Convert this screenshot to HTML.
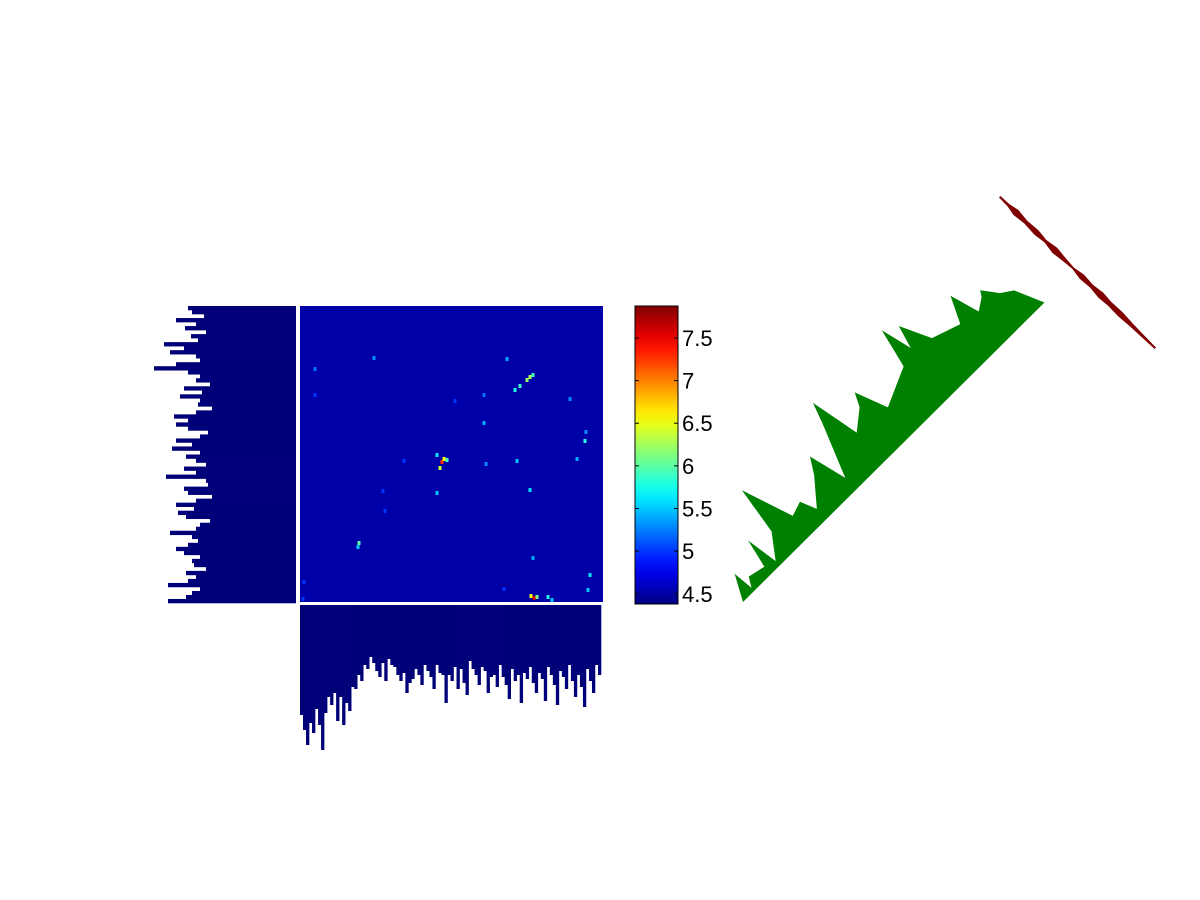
<!DOCTYPE html>
<html><head><meta charset="utf-8"><style>
body{margin:0;background:#fff;}
svg{display:block;font-family:"Liberation Sans",sans-serif;}
</style></head><body>
<svg id="fig" width="1200" height="900" viewBox="0 0 1200 900" xmlns="http://www.w3.org/2000/svg">
<defs><linearGradient id="jetg" x1="0" y1="1" x2="0" y2="0"></linearGradient></defs>
<g id="left"></g>
<g id="bottom"></g>
<g id="heat"></g>
<g id="cbar"></g>
<g id="tri"></g>
<g id="red"></g>
</svg>
<script>
// ---- data ----
const cbTicks = [4.5, 5, 5.5, 6, 6.5, 7, 7.5];
const cbMin = 4.38, cbMax = 7.875;
const bgValue = 4.52;
const spotX = [515,520,527,530,533,442,444,447,437,534,531,537,548,552,359,358,585,507,484,484,486,530,533,590,588,577,570,374,315,315,437,383,385,504,303,304,517,455,404,586,440];
const spotY = [390,386,380,377,375,462,459,460,455,598,596,597,597,600,543,547,441,359,423,395,464,490,558,575,590,459,399,358,369,395,493,491,511,589,599,582,461,401,461,432,468];
const spotV = [5.8,5.9,6.2,6.3,5.9,7.3,6.6,5.9,5.6,7.6,6.5,6.1,5.8,5.5,6.0,5.5,5.8,5.4,5.4,5.2,5.3,5.6,5.4,5.6,5.5,5.4,5.3,5.3,5.2,5.0,5.5,5.0,5.0,5.0,5.0,5.0,5.5,5.0,5.0,5.3,6.4];
const rowLen = [108,104,92,120,100,111,90,105,98,132,112,126,100,96,120,142,108,96,100,86,112,94,116,96,98,84,100,122,108,120,108,88,96,120,104,124,96,110,100,90,112,100,130,90,88,112,108,84,100,120,102,118,110,86,96,100,126,104,98,108,120,112,96,104,102,90,110,100,108,128,96,104,110,128];
const colLen = [110,125,140,118,128,104,120,145,108,92,100,88,116,92,120,98,106,82,84,70,76,60,64,52,58,66,72,58,76,54,60,62,70,76,68,88,78,74,64,70,80,60,66,72,84,60,68,70,98,70,76,62,84,64,78,90,56,64,70,80,62,66,88,72,70,82,60,72,80,94,64,76,70,98,68,74,62,78,88,68,74,96,62,70,80,100,66,72,84,60,76,92,70,82,102,64,76,88,60,70];
const triPos = [0,14,16,22,40,47,52,70,78,96,108,111,118,140,150,160,182,190,200,220,227,240,280,290,298,305,320,350,363,372,384,388,400,412,425];
const triH   = [0,26,4,14,10,40,6,30,80,26,30,31,14,40,56,16,70,92,40,56,70,36,54,95,62,86,54,44,71,40,48,54,38,30,0];
const redPos = [0,12,22,35,50,62,75,88,100,112,125,138,150,165,180,195,212];
const redW   = [1,2,6,3,5,2,6,3,1,5,3,6,4,5,3,2,1];

// ---- helpers ----
const NS = "http://www.w3.org/2000/svg";
function mk(tag, parent, attrs){const e=document.createElementNS(NS,tag);for(const k in attrs)e.setAttribute(k,attrs[k]);parent.appendChild(e);return e;}
function jet(v){let t=(v-cbMin)/(cbMax-cbMin);t=Math.max(0,Math.min(1,t));
 const f=x=>Math.max(0,Math.min(1,x));
 const r=f(Math.min(4*t-1.5,-4*t+4.5)),g=f(Math.min(4*t-0.5,-4*t+3.5)),b=f(Math.min(4*t+0.5,-4*t+2.5));
 return `rgb(${Math.round(r*255)},${Math.round(g*255)},${Math.round(b*255)})`;}

// heatmap
const HX0=300,HX1=603,HY0=306,HY1=602;
const heat=document.getElementById('heat');
let r=mk('rect',heat,{x:HX0,y:HY0,width:HX1-HX0,height:HY1-HY0,fill:jet(bgValue)});


spotX.forEach((x,i)=>{const c=mk('rect',heat,{x:x-1.5,y:spotY[i]-2,width:3,height:4,fill:jet(spotV[i])});
 
 });

// left profile
const left=document.getElementById('left');
const LX1=296, LY0=306, LY1=603, lscale=1.0;
const rh=(LY1-LY0)/rowLen.length;
rowLen.forEach((v,i)=>{const b=mk('rect',left,{x:LX1-v*lscale,y:LY0+i*rh,width:v*lscale,height:rh+0.3,fill:'#000078'});
 
 });

// bottom profile
const bottom=document.getElementById('bottom');
const BX0=300,BX1=601,BY0=605;
const cw=(BX1-BX0)/colLen.length;
colLen.forEach((v,i)=>{const b=mk('rect',bottom,{x:BX0+i*cw,y:BY0,width:cw+0.3,height:v,fill:'#000078'});
 
 });

// colorbar
const g=document.getElementById('jetg');
for(let i=0;i<=20;i++){const v=cbMin+(cbMax-cbMin)*i/20;mk('stop',g,{offset:(i/20),'stop-color':jet(v)});}
const cb=document.getElementById('cbar');
const CX0=635,CX1=678,CY0=306,CY1=604;
const cy=v=>CY1-(v-cbMin)/(cbMax-cbMin)*(CY1-CY0);
let cr=mk('rect',cb,{x:CX0,y:CY0,width:CX1-CX0,height:CY1-CY0,fill:'url(#jetg)',stroke:'#000','stroke-width':1});


cbTicks.forEach(v=>{const y=cy(v);
 mk('line',cb,{x1:CX0,x2:CX0+4,y1:y,y2:y,stroke:'#000'});
 mk('line',cb,{x1:CX1-4,x2:CX1,y1:y,y2:y,stroke:'#000'});
 const t=mk('text',cb,{x:CX1+4,y:y+8,'font-size':22,fill:'#000'});t.textContent=String(v);
 
 });

// triangle profile (green)
const tri=document.getElementById('tri');
const B0=[743,602],B1=[1045,302];
const L=Math.hypot(B1[0]-B0[0],B1[1]-B0[1]);
const d=[(B1[0]-B0[0])/L,(B1[1]-B0[1])/L], n=[d[1],-d[0]];
let pts=[];
triPos.forEach((s,i)=>{const h=triH[i];pts.push([B0[0]+d[0]*s+n[0]*h,B0[1]+d[1]*s+n[1]*h]);});
pts.push(B1);pts.push(B0);
let tp=mk('polygon',tri,{points:pts.map(p=>p.join(',')).join(' '),fill:'#008000'});



// red band
const red=document.getElementById('red');
const R0=[1000,197],R1=[1155,348];
const RL=Math.hypot(R1[0]-R0[0],R1[1]-R0[1]);
const rd=[(R1[0]-R0[0])/RL,(R1[1]-R0[1])/RL], rn=[rd[1],-rd[0]];
const sc=RL/redPos[redPos.length-1];
let up=[],dn=[];
redPos.forEach((s,i)=>{const x=R0[0]+rd[0]*s*sc,y=R0[1]+rd[1]*s*sc,w=redW[i];
 up.push([x+rn[0]*w*0.5,y+rn[1]*w*0.5]);dn.push([x-rn[0]*w*0.5,y-rn[1]*w*0.5]);});
const rp=mk('polygon',red,{points:up.concat(dn.reverse()).map(p=>p.join(',')).join(' '),fill:'#800000',stroke:'#800000','stroke-width':1});


</script>
</body></html>
